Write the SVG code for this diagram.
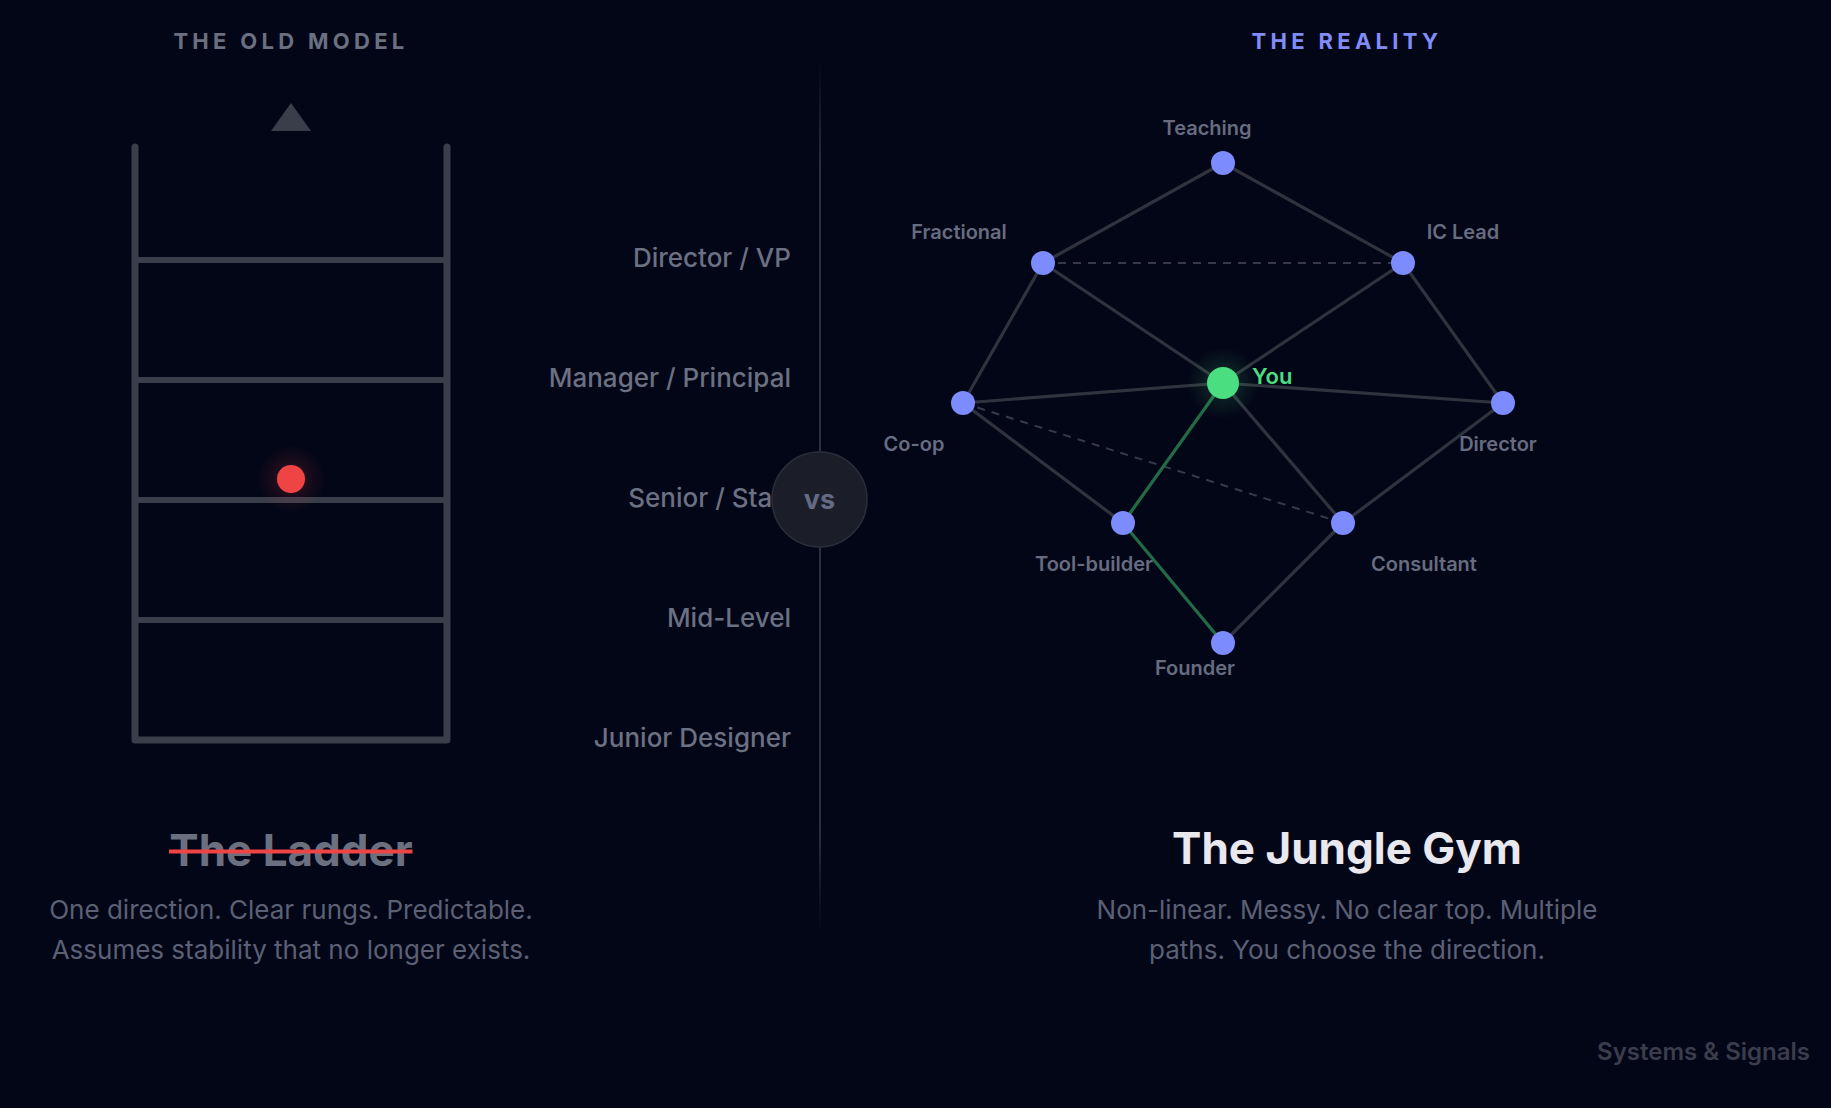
<svg xmlns="http://www.w3.org/2000/svg" width="1831" height="1108" viewBox="0 0 1831 1108">
  <defs>
    <style>
      .f { font-family: Inter, "Noto Sans", "Liberation Sans", sans-serif; }
      .head { font-size: 22px; font-weight: 700; letter-spacing: 4.3px; text-anchor: middle; }
      .rung-label { font-size: 26px; font-weight: 500; fill: #6b7082; text-anchor: end; }
      .rail { stroke: #3a3d4a; fill: none; stroke-linecap: round; stroke-linejoin: round; }
      .edge { stroke: #30333e; stroke-width: 3.2; fill: none; }
      .edge-green { stroke: #226b47; stroke-width: 3.2; fill: none; }
      .edge-dash { stroke: #353949; stroke-width: 2; stroke-dasharray: 8 7; fill: none; }
      .node { fill: #7c8bfd; }
      .nlabel { font-size: 20px; font-weight: 600; fill: #676c80; text-anchor: middle; }
      .title { font-size: 44px; font-weight: 700; text-anchor: middle; }
      .desc { font-size: 26px; font-weight: 400; fill: #5b6075; text-anchor: middle; }
    </style>
    <radialGradient id="redGlow">
      <stop offset="0" stop-color="#ef4444" stop-opacity="0.35"/>
      <stop offset="0.5" stop-color="#ef4444" stop-opacity="0.1"/>
      <stop offset="1" stop-color="#ef4444" stop-opacity="0"/>
    </radialGradient>
    <radialGradient id="greenGlow">
      <stop offset="0" stop-color="#4ade80" stop-opacity="0.35"/>
      <stop offset="0.5" stop-color="#4ade80" stop-opacity="0.1"/>
      <stop offset="1" stop-color="#4ade80" stop-opacity="0"/>
    </radialGradient>
    <linearGradient id="divGrad" x1="0" y1="0" x2="0" y2="1">
      <stop offset="0" stop-color="#2c2f3d" stop-opacity="0"/>
      <stop offset="0.12" stop-color="#2c2f3d" stop-opacity="1"/>
      <stop offset="0.88" stop-color="#2c2f3d" stop-opacity="1"/>
      <stop offset="1" stop-color="#2c2f3d" stop-opacity="0"/>
    </linearGradient>
  </defs>

  <rect width="1831" height="1108" fill="#030617"/>

  <!-- Left: old model -->
  <g id="old-model">
    <text class="f head" x="291" y="49" fill="#6b7080">THE OLD MODEL</text>
    <polygon points="291,103 271,131 311,131" fill="#3a3d4a"/>
    <path class="rail" stroke-width="7" d="M135 147 V740 H447 V147"/>
    <g class="rail" stroke-width="6">
      <line x1="135" y1="260" x2="447" y2="260"/>
      <line x1="135" y1="380" x2="447" y2="380"/>
      <line x1="135" y1="500" x2="447" y2="500"/>
      <line x1="135" y1="620" x2="447" y2="620"/>
    </g>
    <circle cx="291" cy="479" r="34" fill="url(#redGlow)"/>
    <circle cx="291" cy="479" r="14" fill="#ef4444"/>
  </g>

  <g id="rung-labels" class="f">
    <text class="rung-label" x="791" y="267">Director / VP</text>
    <text class="rung-label" x="791" y="387">Manager / Principal</text>
    <text class="rung-label" x="791" y="507">Senior / Staff</text>
    <text class="rung-label" x="791" y="627">Mid-Level</text>
    <text class="rung-label" x="791" y="747">Junior Designer</text>
  </g>

  <!-- Divider -->
  <g id="divider">
    <rect x="819" y="62" width="2" height="870" fill="url(#divGrad)"/>
    <circle cx="819.5" cy="499.5" r="47.5" fill="#1b1e29" stroke="#2b2e3a" stroke-width="1.5"/>
    <text class="f" x="819.5" y="509" font-size="27" font-weight="700" fill="#646a85" text-anchor="middle">vs</text>
  </g>

  <!-- Right: reality -->
  <text class="f head" x="1347" y="49" fill="#818cf8">THE REALITY</text>

  <g id="connectors">
    <line class="edge" x1="1223" y1="163" x2="1043" y2="263"/>
    <line class="edge" x1="1223" y1="163" x2="1403" y2="263"/>
    <line class="edge" x1="1043" y1="263" x2="1223" y2="383"/>
    <line class="edge" x1="1403" y1="263" x2="1223" y2="383"/>
    <line class="edge" x1="1043" y1="263" x2="963" y2="403"/>
    <line class="edge" x1="1403" y1="263" x2="1503" y2="403"/>
    <line class="edge" x1="963" y1="403" x2="1223" y2="383"/>
    <line class="edge" x1="1223" y1="383" x2="1503" y2="403"/>
    <line class="edge" x1="963" y1="403" x2="1123" y2="523"/>
    <line class="edge" x1="1223" y1="383" x2="1343" y2="523"/>
    <line class="edge" x1="1503" y1="403" x2="1343" y2="523"/>
    <line class="edge" x1="1343" y1="523" x2="1223" y2="643"/>
    <line class="edge-dash" x1="1043" y1="263" x2="1403" y2="263"/>
    <line class="edge-dash" x1="963" y1="403" x2="1343" y2="523"/>
    <line class="edge-green" x1="1223" y1="383" x2="1123" y2="523"/>
    <line class="edge-green" x1="1123" y1="523" x2="1223" y2="643"/>
  </g>

  <g id="node-teaching"><circle class="node" cx="1223" cy="163" r="12"/><text class="f nlabel" x="1207" y="135">Teaching</text></g>
  <g id="node-fractional"><circle class="node" cx="1043" cy="263" r="12"/><text class="f nlabel" x="959" y="239">Fractional</text></g>
  <g id="node-iclead"><circle class="node" cx="1403" cy="263" r="12"/><text class="f nlabel" x="1463" y="239">IC Lead</text></g>
  <g id="node-coop"><circle class="node" cx="963" cy="403" r="12"/><text class="f nlabel" x="914" y="451">Co-op</text></g>
  <g id="node-director"><circle class="node" cx="1503" cy="403" r="12"/><text class="f nlabel" x="1498" y="451">Director</text></g>
  <g id="node-toolbuilder"><circle class="node" cx="1123" cy="523" r="12"/><text class="f nlabel" x="1094" y="571">Tool-builder</text></g>
  <g id="node-consultant"><circle class="node" cx="1343" cy="523" r="12"/><text class="f nlabel" x="1424" y="571">Consultant</text></g>
  <g id="node-founder"><circle class="node" cx="1223" cy="643" r="12"/><text class="f nlabel" x="1195" y="675">Founder</text></g>
  <g id="node-you">
    <circle cx="1223" cy="383" r="36" fill="url(#greenGlow)"/>
    <circle cx="1223" cy="383" r="16" fill="#4ade80"/>
    <text class="f" x="1252" y="384" font-size="22" font-weight="600" fill="#4ade80">You</text>
  </g>

  <!-- Bottom captions -->
  <g id="caption-left" class="f">
    <text class="title" x="291" y="866" fill="#6b7080">The Ladder</text>
    <line x1="169" y1="851.5" x2="412.5" y2="851.5" stroke="#ef4444" stroke-width="4"/>
    <text class="desc" x="291" y="919">One direction. Clear rungs. Predictable.</text>
    <text class="desc" x="291" y="959">Assumes stability that no longer exists.</text>
  </g>
  <g id="caption-right" class="f">
    <text class="title" x="1347" y="864" fill="#e8e8ee">The Jungle Gym</text>
    <text class="desc" x="1347" y="919">Non-linear. Messy. No clear top. Multiple</text>
    <text class="desc" x="1347" y="959">paths. You choose the direction.</text>
  </g>
  <text class="f" x="1810" y="1060" font-size="24" font-weight="600" fill="#3a3d4c" text-anchor="end">Systems &amp; Signals</text>
</svg>
